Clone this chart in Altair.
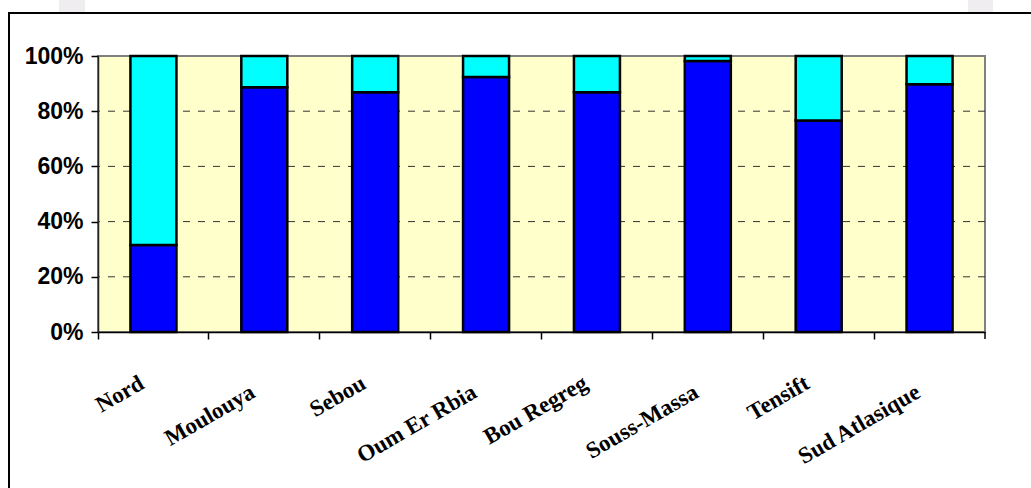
import altair as alt
import pandas as pd

# Share of each region's total, in percent (bottom segment / top segment)
regions = ["Nord", "Moulouya", "Sebou", "Oum Er Rbia", "Bou Regreg",
           "Souss-Massa", "Tensift", "Sud Atlasique"]
share_bottom = [31.5, 88.7, 86.9, 92.4, 86.9, 98.2, 76.6, 89.8]
share_top = [68.5, 11.3, 13.1, 7.6, 13.1, 1.8, 23.4, 10.2]
series = ["Série 1", "Série 2"]
series_colors = ["#0000FF", "#00FFFF"]
y_ticks = [0, 0.2, 0.4, 0.6, 0.8, 1.0]
grid_levels = [0.2, 0.4, 0.6, 0.8]

W, H = 887, 276

rows = []
for i, r in enumerate(regions):
    rows.append({"region": r, "serie": series[0], "value": share_bottom[i], "pos": 0})
    rows.append({"region": r, "serie": series[1], "value": share_top[i], "pos": 1})
df = pd.DataFrame(rows)

labels = pd.DataFrame({"region": regions, "tier": [i % 2 for i in range(len(regions))]})
one = pd.DataFrame({"k": [0]})

x_axis = alt.Axis(labels=False, bandPosition=0, ticks=True, tickSize=7,
                  tickColor="black", tickWidth=1.5, domainColor="black",
                  domainWidth=1.5, grid=False, title=None)
x_enc = alt.X("region:N", sort=regions, title=None,
              scale=alt.Scale(paddingInner=0, paddingOuter=0), axis=x_axis)

y_axis = alt.Axis(values=y_ticks, format=".0%", tickSize=7, tickColor="black",
                  tickWidth=1.5, domainColor="#222222", domainWidth=1.5,
                  labelFont="Liberation Sans", labelFontWeight="bold",
                  labelFontSize=23, labelColor="black", labelPadding=8,
                  grid=False, title=None)
y_scale = alt.Scale(domain=[0, 1])

# Decorative outer frame and the two faint blocks along the top edge
frame = alt.Chart(one).mark_rect(fillOpacity=0, stroke="black", strokeWidth=2).encode(
    x=alt.value(-89), x2=alt.value(960), y=alt.value(-43), y2=alt.value(460))
block_left = alt.Chart(one).mark_rect(color="#EFEDEF").encode(
    x=alt.value(-39), x2=alt.value(-13), y=alt.value(-56), y2=alt.value(-44))
block_right = alt.Chart(one).mark_rect(color="#EFEDEF").encode(
    x=alt.value(870), x2=alt.value(895), y=alt.value(-56), y2=alt.value(-44))

grid = alt.Chart(pd.DataFrame({"level": grid_levels})).mark_rule(
    color="#333333", strokeWidth=1, strokeDash=[7, 8]).encode(
    y=alt.Y("level:Q", title=None, axis=y_axis, scale=y_scale))

bars = alt.Chart(df).mark_bar(
    width=alt.RelativeBandSize(0.415), stroke="black", strokeWidth=2.5).encode(
    x=x_enc,
    y=alt.Y("value:Q", stack="normalize", title=None, scale=y_scale, axis=y_axis),
    color=alt.Color("serie:N", scale=alt.Scale(domain=series, range=series_colors),
                    legend=None),
    order=alt.Order("pos:Q"),
)

end_tick = alt.Chart(one).mark_rule(color="black", strokeWidth=1.5).encode(
    x=alt.value(W), y=alt.value(H), y2=alt.value(H + 7))

def label_layer(tier, y_off):
    return alt.Chart(labels).transform_filter(f"datum.tier == {tier}").mark_text(
        align="right", baseline="alphabetic", angle=330, dx=-9,
        font="Liberation Serif", fontWeight="bold", fontSize=23, color="black").encode(
        x=x_enc, y=alt.value(H + y_off), text="region:N")

chart = alt.layer(
    block_left, block_right, frame, grid, bars, end_tick,
    label_layer(0, 51), label_layer(1, 60)
).properties(
    width=W, height=H,
    autosize=alt.AutoSizeParams(type="none"),
    padding={"left": 98, "top": 56, "right": 46, "bottom": 156},
    background="white",
).configure_view(fill="#FFFFCC", stroke="#808080", strokeWidth=2)

chart.save("out.html", embed_options={"renderer": "svg", "actions": False})
